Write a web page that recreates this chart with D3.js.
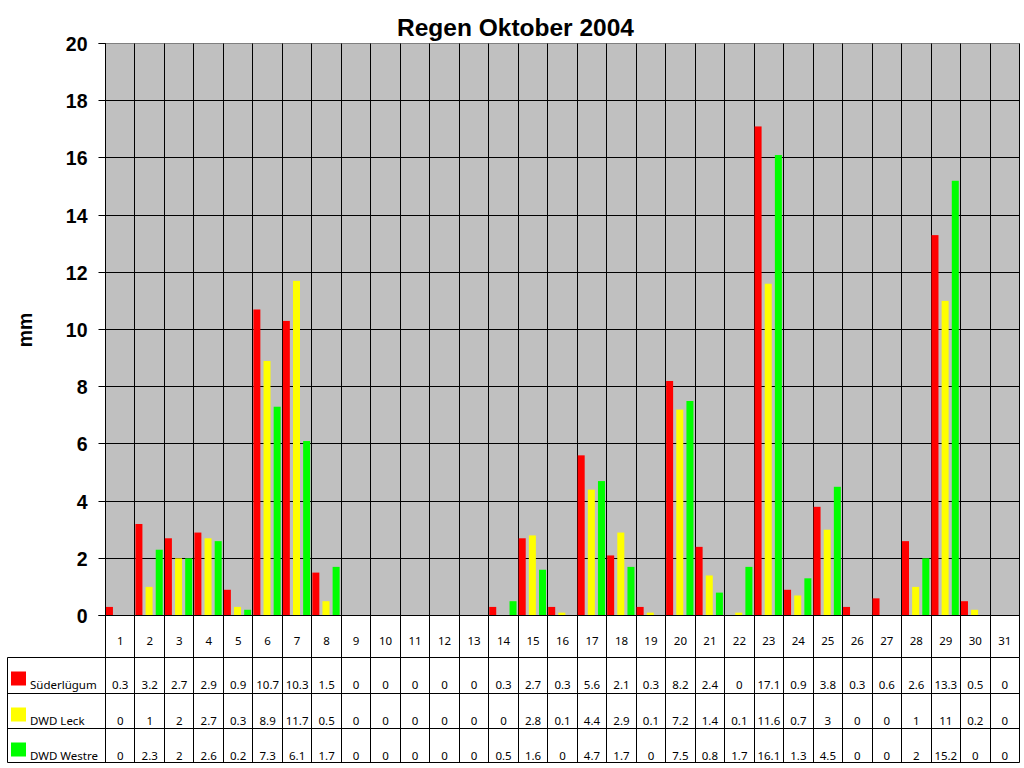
<!DOCTYPE html>
<html><head><meta charset="utf-8">
<script src="https://cdn.jsdelivr.net/npm/d3@7/dist/d3.min.js"></script>
<style>body{margin:0;background:#fff}svg{display:block}</style>
</head><body>
<svg id="c" width="1024" height="768"></svg>
<script>
const days = d3.range(1, 32).map(String);
const seriesNames = ["Süderlügum", "DWD Leck", "DWD Westre"];
const seriesColors = ["#ff0000", "#ffff00", "#00ff00"];
const suederluegum = [0.3,3.2,2.7,2.9,0.9,10.7,10.3,1.5,0,0,0,0,0,0.3,2.7,0.3,5.6,2.1,0.3,8.2,2.4,0,17.1,0.9,3.8,0.3,0.6,2.6,13.3,0.5,0];
const dwdLeck = [0,1,2,2.7,0.3,8.9,11.7,0.5,0,0,0,0,0,0,2.8,0.1,4.4,2.9,0.1,7.2,1.4,0.1,11.6,0.7,3,0,0,1,11,0.2,0];
const dwdWestre = [0,2.3,2,2.6,0.2,7.3,6.1,1.7,0,0,0,0,0,0.5,1.6,0,4.7,1.7,0,7.5,0.8,1.7,16.1,1.3,4.5,0,0,2,15.2,0,0];
const yTicks = [0,2,4,6,8,10,12,14,16,18,20];
const title = "Regen Oktober 2004";
const yLabel = "mm";

const seriesValues = [suederluegum, dwdLeck, dwdWestre];
const svg = d3.select("#c");
const L = 105.5, R = 1019.5, T = 43.5, B = 615.5;
const x = d3.scaleBand().domain(days).range([L, R]).padding(0);
const xs = d3.scaleBand().domain([0,1,2]).range([0, x.bandwidth()])
  .paddingInner(0.31).paddingOuter(0.1075).align(0.2);
const y = d3.scaleLinear().domain([0, 20]).range([B, T]);

// plot background
svg.append("rect").attr("x", L).attr("y", T).attr("width", R - L).attr("height", B - T).attr("fill", "#c0c0c0");

// horizontal gridlines
svg.append("g").selectAll("line").data(yTicks).join("line")
  .attr("x1", L - 7).attr("x2", R).attr("y1", d => Math.round(y(d) - 0.5) + 0.5).attr("y2", d => Math.round(y(d) - 0.5) + 0.5)
  .attr("stroke", d => d === 20 ? "#808080" : "#000").attr("stroke-width", 1);
svg.append("line").attr("x1", L - 7).attr("x2", L).attr("y1", T).attr("y2", T).attr("stroke", "#000");

// vertical gridlines (category boundaries) down through header row
const bounds = days.map(d => x(d)).concat([R]);
svg.append("g").selectAll("line").data(bounds).join("line")
  .attr("x1", d => Math.round(d - 0.5) + 0.5).attr("x2", d => Math.round(d - 0.5) + 0.5)
  .attr("y1", T).attr("y2", 657.5).attr("stroke", "#000");

// bars
seriesValues.forEach((vals, si) => {
  svg.append("g").selectAll("rect").data(vals.map((v, i) => ({v, d: days[i]}))).join("rect")
    .filter(o => o.v > 0)
    .attr("x", o => x(o.d) + xs(si))
    .attr("width", xs.bandwidth())
    .attr("y", o => y(o.v))
    .attr("height", o => y(0) - y(o.v))
    .attr("fill", seriesColors[si]);
});

// y axis labels
const yAxis = d3.axisLeft(y).tickValues(yTicks).tickSize(0).tickPadding(0).tickFormat(d3.format("d"));
const ga = svg.append("g").attr("transform", `translate(${L - 18},0)`).call(yAxis);
ga.select(".domain").remove();
ga.selectAll("text").attr("font-family", "Liberation Sans, Arial, sans-serif").attr("font-weight", "bold")
  .attr("font-size", 19.5).attr("fill", "#000").attr("dy", "0.36em");

svg.append("line").attr("x1", L - 7).attr("x2", R).attr("y1", B).attr("y2", B).attr("stroke", "#000");
svg.append("line").attr("x1", L).attr("x2", L).attr("y1", T).attr("y2", B).attr("stroke", "#000");

// title
svg.append("text").attr("x", 515.5).attr("y", 35.5).attr("text-anchor", "middle")
  .attr("font-family", "Liberation Sans, Arial, sans-serif").attr("font-weight", "bold").attr("font-size", 24.5)
  .text(title);
// y label
svg.append("text").attr("transform", "translate(32,330) rotate(-90)").attr("text-anchor", "middle")
  .attr("font-family", "Liberation Sans, Arial, sans-serif").attr("font-weight", "bold").attr("font-size", 19.5)
  .text(yLabel);

// data table
const tf = "Noto Sans, Open Sans, DejaVu Sans, sans-serif";
const rowTops = [657.5, 693.5, 728.5, 762.5];
svg.append("g").selectAll("text").data(days).join("text")
  .attr("x", d => x(d) + x.bandwidth() / 2).attr("y", 644.5).attr("text-anchor", "middle")
  .attr("font-family", tf).attr("font-size", 11.5).text(d => d);
svg.append("g").selectAll("line").data(rowTops).join("line")
  .attr("x1", 7.5).attr("x2", R).attr("y1", d => d).attr("y2", d => d).attr("stroke", "#000");
svg.append("g").selectAll("line").data([7.5].concat(bounds.map(b => Math.round(b - 0.5) + 0.5))).join("line")
  .attr("x1", d => d).attr("x2", d => d).attr("y1", rowTops[0]).attr("y2", rowTops[3]).attr("stroke", "#000");
seriesValues.forEach((vals, si) => {
  const base = rowTops[si] + 31;
  svg.append("rect").attr("x", 11).attr("y", rowTops[si] + 14).attr("width", 15).attr("height", 14).attr("fill", seriesColors[si]);
  svg.append("text").attr("x", 30).attr("y", base).attr("font-family", tf).attr("font-size", 11.5).text(seriesNames[si]);
  svg.append("g").selectAll("text").data(vals).join("text")
    .attr("x", (v, i) => x(days[i]) + x.bandwidth() / 2).attr("y", base).attr("text-anchor", "middle")
    .attr("font-family", tf).attr("font-size", 11.5).text(v => v);
});
</script>
</body></html>
